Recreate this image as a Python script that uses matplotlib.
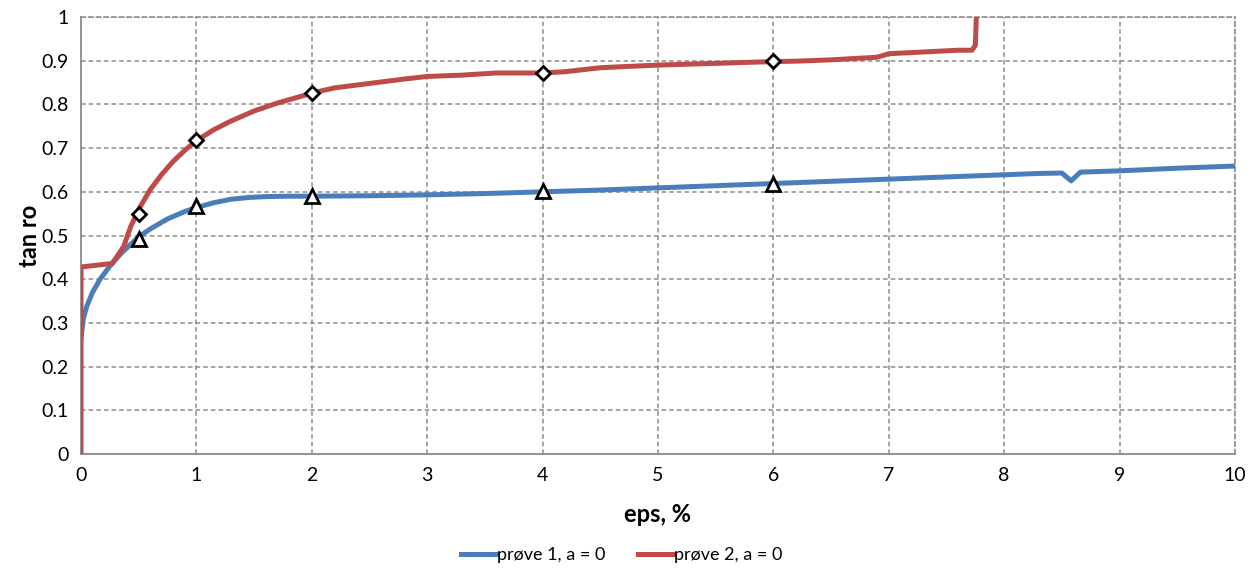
import matplotlib.pyplot as plt

# prøve 1 curve
eps1 = [0.0, 0.02, 0.05, 0.1, 0.165, 0.25, 0.35, 0.5, 0.6, 0.75, 0.9, 1.0, 1.15, 1.3, 1.45, 1.6, 1.8, 2.0, 2.5, 3.0,
        3.5, 4.0, 4.5, 5.0, 5.5, 6.0, 6.5, 7.0, 7.5, 8.0, 8.3, 8.5, 8.58, 8.66, 9.0, 9.5, 10.0]
tan1 = [0.265, 0.31, 0.338, 0.37, 0.4, 0.43, 0.46, 0.497, 0.515, 0.538, 0.555, 0.564, 0.575, 0.583, 0.587, 0.589,
        0.59, 0.59, 0.591, 0.593, 0.596, 0.6, 0.604, 0.609, 0.614, 0.619, 0.624, 0.629, 0.634, 0.639, 0.642, 0.643,
        0.625, 0.645, 0.648, 0.654, 0.659]

# prøve 2 curve
eps2 = [0.0, 0.0, 0.27, 0.32, 0.37, 0.43, 0.5, 0.6, 0.7, 0.8, 0.9, 1.0, 1.15, 1.3, 1.5, 1.7, 1.9, 2.0, 2.2, 2.5,
        2.8, 3.0, 3.3, 3.6, 4.0, 4.2, 4.5, 5.0, 5.5, 6.0, 6.2, 6.5, 6.9, 7.0, 7.3, 7.6, 7.72, 7.75, 7.76]
tan2 = [0.0, 0.428, 0.436, 0.455, 0.475, 0.52, 0.56, 0.605, 0.64, 0.67, 0.695, 0.717, 0.742, 0.762, 0.785, 0.803,
        0.818, 0.826, 0.838, 0.848, 0.858, 0.864, 0.867, 0.872, 0.872, 0.875, 0.884, 0.89, 0.894, 0.898, 0.899,
        0.902, 0.908, 0.916, 0.92, 0.924, 0.924, 0.935, 1.01]

# marker points
mk_eps = [0.5, 1, 2, 4, 6]
mk_tan1 = [0.493, 0.567, 0.59, 0.601, 0.618]
mk_tan2 = [0.55, 0.718, 0.827, 0.872, 0.899]

xticks = list(range(0, 11))
yticks = [i / 10 for i in range(0, 11)]
ytick_labels = ['0', '0.1', '0.2', '0.3', '0.4', '0.5', '0.6', '0.7', '0.8', '0.9', '1']

plt.rcParams['font.family'] = ['Lato', 'DejaVu Sans']

fig = plt.figure(figsize=(12.58, 5.71), dpi=100)
ax = fig.add_axes([0.0644, 0.2049, 0.9173, 0.7653])

blue = '#4a7ebb'
red = '#be4b48'

ax.plot(eps1, tan1, color=blue, lw=3.6, label='prøve 1, a = 0', zorder=3)
ax.plot(eps2, tan2, color=red, lw=3.6, label='prøve 2, a = 0', zorder=3)
ax.plot(mk_eps, mk_tan1, ls='none', marker='^', ms=10, mfc='white', mec='black', mew=2, zorder=4)
ax.plot(mk_eps, mk_tan2, ls='none', marker='D', ms=7.5, mfc='white', mec='black', mew=2, zorder=4)

ax.set_xlim(0, 10)
ax.set_ylim(0, 1)
ax.set_xticks(xticks)
ax.set_yticks(yticks)
ax.set_yticklabels(ytick_labels)
ax.tick_params(length=0, labelsize=14, pad=9)
ax.grid(True, color='#8c8c8c', ls=(0, (3, 2)), lw=1.1)
for s in ['top', 'right']:
    ax.spines[s].set_color('#8c8c8c')
    ax.spines[s].set_linestyle((0, (3, 2)))
    ax.spines[s].set_linewidth(1.1)
for s in ['left', 'bottom']:
    ax.spines[s].set_color('#8c8c8c')
    ax.spines[s].set_linewidth(1.3)

ax.set_xlabel('eps, %', fontsize=17, fontweight='bold', labelpad=14)
ax.set_ylabel('tan ro', fontsize=17, fontweight='bold', labelpad=0)

fig.legend(*ax.get_legend_handles_labels(), loc='center', bbox_to_anchor=(0.494, 0.028), ncol=2,
           frameon=False, fontsize=13, handlelength=2.0, handletextpad=0.0, columnspacing=1.8)

fig.savefig('out.png', dpi=100)
